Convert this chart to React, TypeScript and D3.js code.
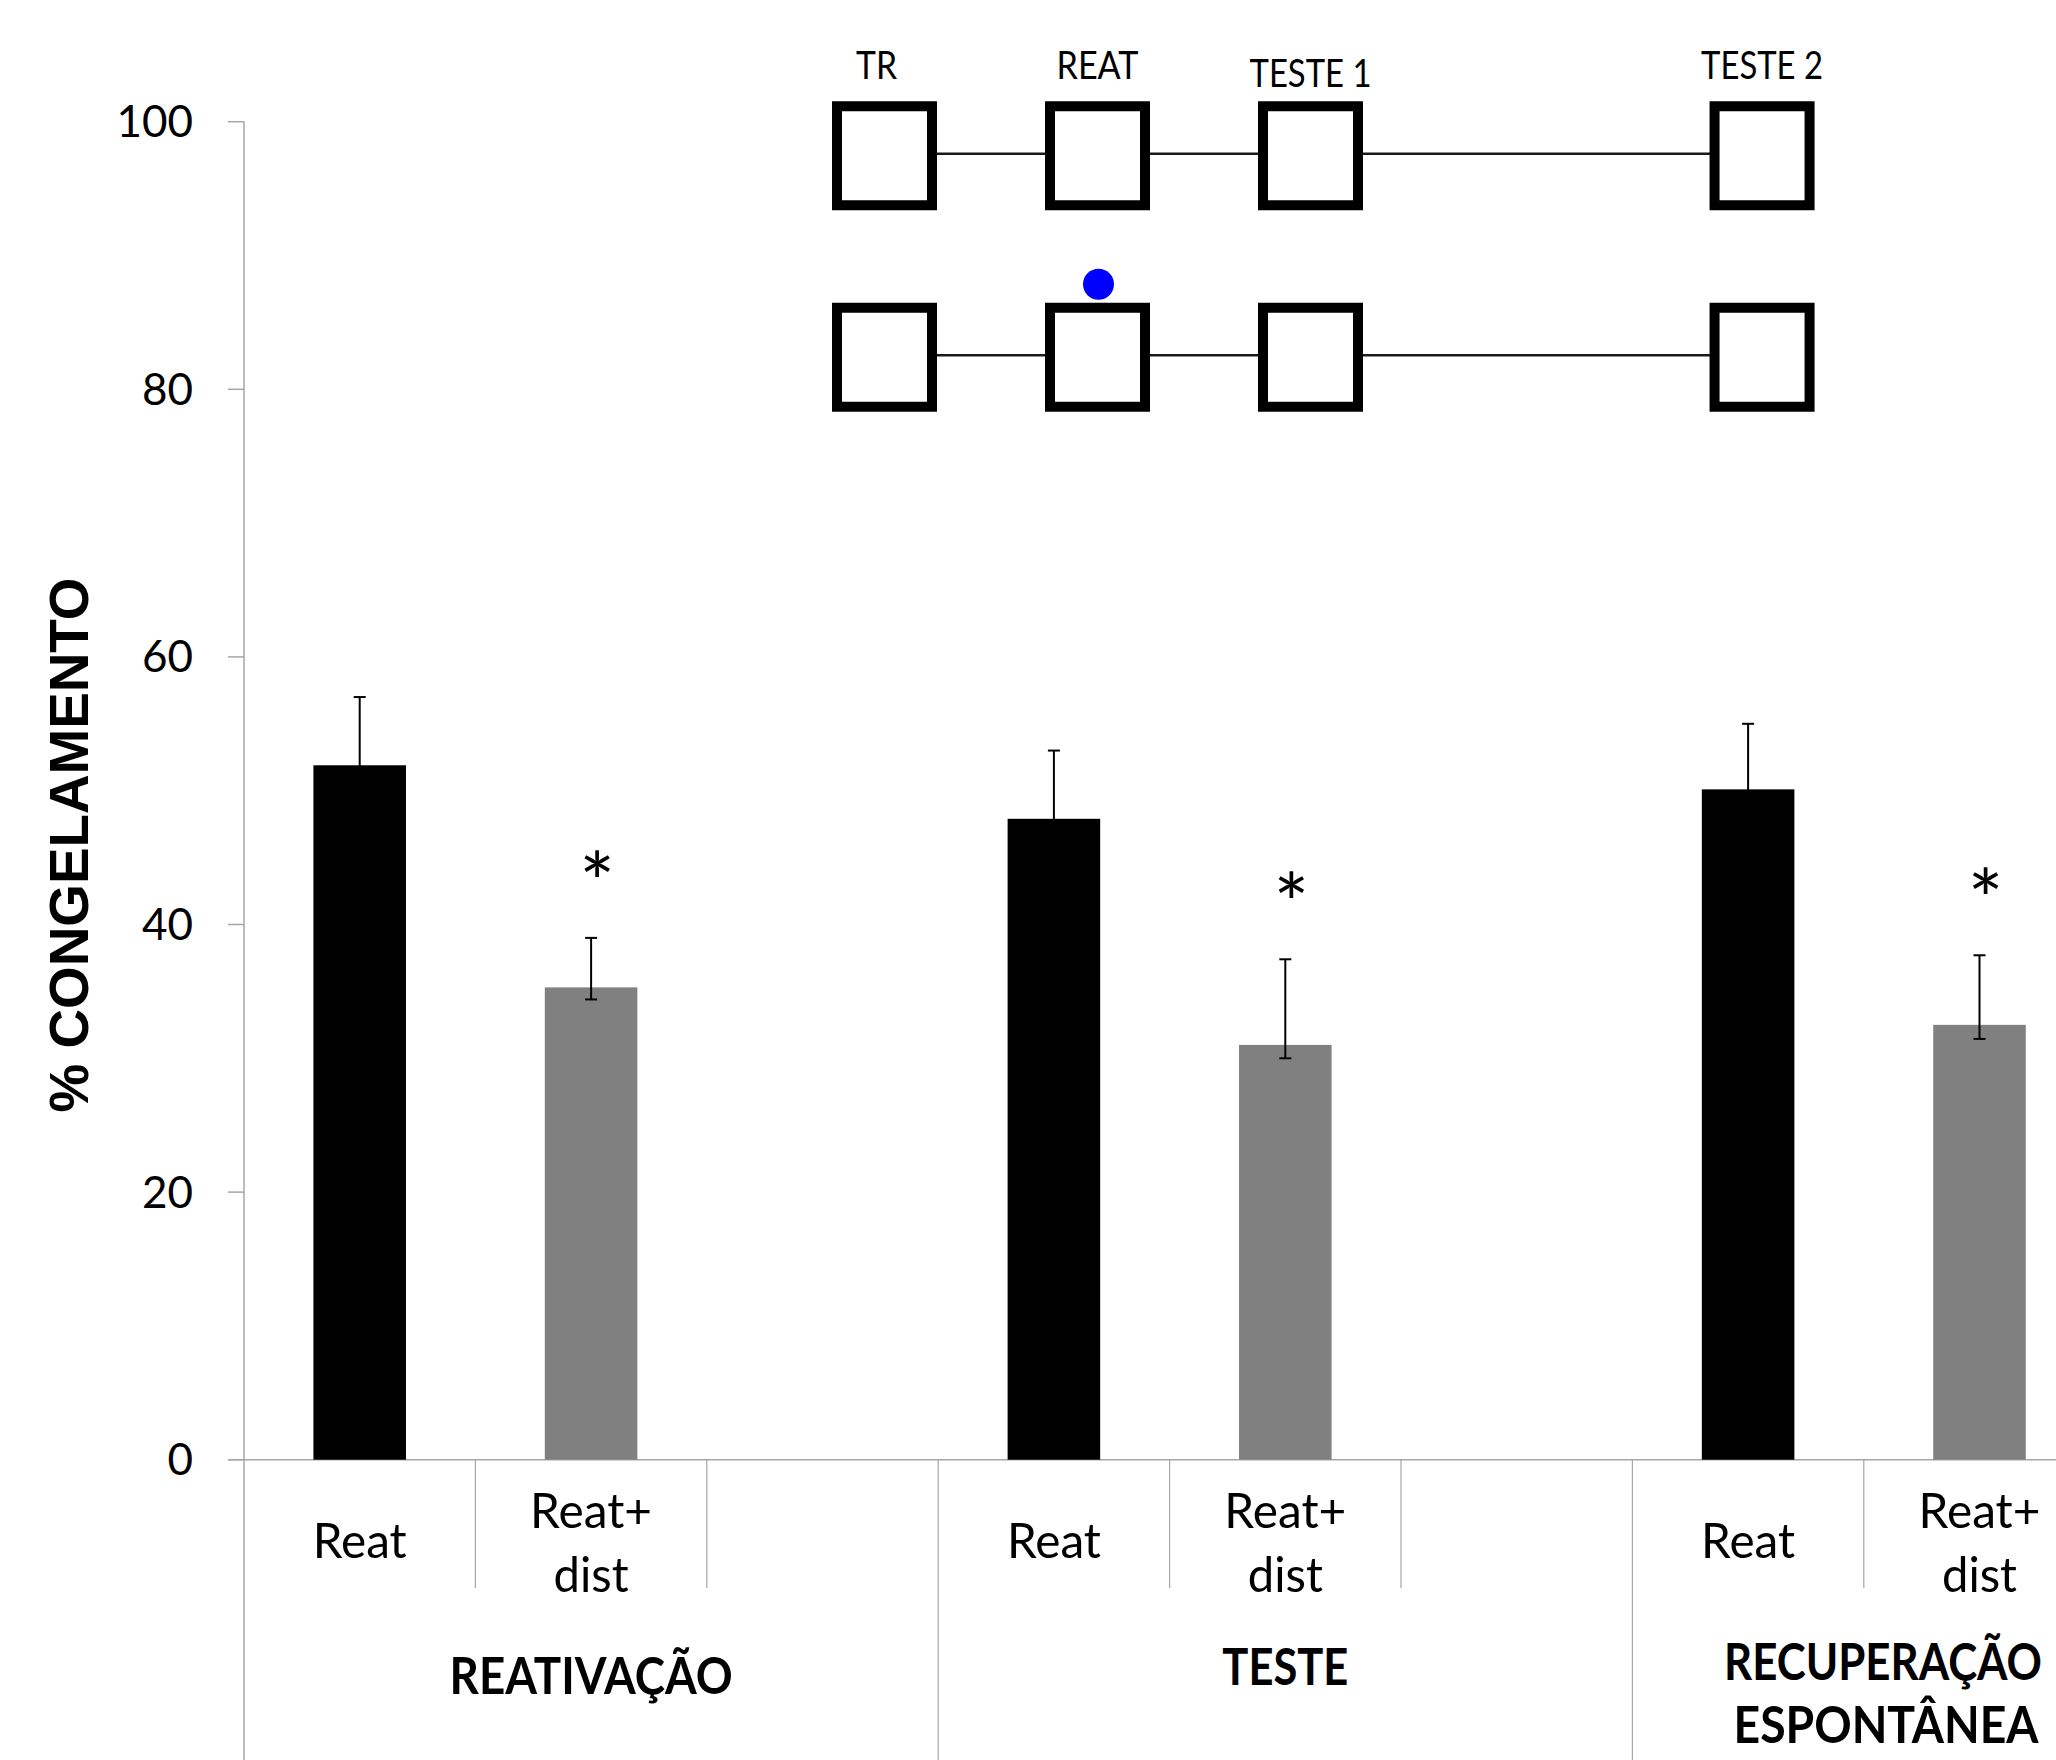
import React from "react";
import * as d3 from "d3";

// session groups and the two conditions inside each group
const groups = ["REATIVAÇÃO", "TESTE", "RECUPERAÇÃO ESPONTÂNEA"];
const conditions = ["Reat", "Reat+ dist"];

// % congelamento per group
const reatValues = [51.9, 47.9, 50.1];
const reatErrUp = [5.1, 5.1, 4.9];
const reatErrDown = [5.1, 5.1, 4.9];
const distValues = [35.3, 31.0, 32.5];
const distErrUp = [3.7, 6.4, 5.2];
const distErrDown = [0.9, 1.0, 1.05];
const significant = [true, true, true];

const yTicks = [0, 20, 40, 60, 80, 100];

// protocol schematic (inset)
const stages = ["TR", "REAT", "TESTE 1", "TESTE 2"];
const stageDay = [0, 1, 2, 4.12];
const protocolRows = ["Reat", "Reat+dist"];
const pulseStage = "REAT";

const W = 2056;
const H = 1760;
const FONT = "Lato, 'Open Sans', sans-serif";
const AXIS = "#a6a6a6";

// text squeezed to a width and stretched a bit in height (the original is Calibri)
function TallText({ x, y, size, sy, width, bold, children }: any) {
  return (
    <g transform={`translate(${x}, ${y}) scale(1, ${sy})`}>
      <text
        x={0}
        y={0}
        textAnchor="middle"
        fontSize={size}
        fontWeight={bold ? "bold" : "normal"}
        textLength={width}
        lengthAdjust="spacingAndGlyphs"
      >
        {children}
      </text>
    </g>
  );
}

export default function App() {
  const x = d3
    .scaleBand<number>()
    .domain(d3.range(groups.length * 3))
    .range([244, 244 + 9 * 231.4])
    .padding(0);
  const y = d3.scaleLinear().domain([0, 100]).range([1459.7, 121.7]);
  const bw = x.bandwidth() * 0.4;
  const mid = (k: number) => x(k)! + x.bandwidth() / 2;

  const bars = groups.flatMap((g, i) => [
    { key: `r${i}`, slot: i * 3, v: reatValues[i], up: reatErrUp[i], down: reatErrDown[i], fill: "#000000", star: false },
    { key: `d${i}`, slot: i * 3 + 1, v: distValues[i], up: distErrUp[i], down: distErrDown[i], fill: "#808080", star: significant[i] },
  ]);

  const sx = d3.scaleLinear().domain([0, 1]).range([884.5, 1097.5]);
  const sy = d3.scaleBand<string>().domain(protocolRows).range([55, 458]).padding(0);
  const rowY = (r: string) => sy(r)! + sy.bandwidth() / 2;

  const bottom = y(0);
  const x0 = x(0)!;
  const lastX = Math.min(mid(7), W - 14 - 159);
  const [lastA, lastB] = groups[2].split(" ");

  return (
    <svg
      width={W}
      height={H}
      style={{ position: "absolute", left: 0, top: 0, background: "#fff" }}
      fontFamily={FONT}
    >
      {/* y axis */}
      <line x1={x0} x2={x0} y1={y(100)} y2={H} stroke={AXIS} strokeWidth={1.5} />
      {yTicks.map((t) => (
        <g key={t}>
          <line x1={x0 - 16} x2={x0} y1={y(t)} y2={y(t)} stroke={AXIS} strokeWidth={1.5} />
          <text x={193} y={y(t)} dy="0.35em" textAnchor="end" fontSize={44} fill="#000">
            {t}
          </text>
        </g>
      ))}
      <text
        transform={`translate(88, 845) rotate(-90)`}
        textAnchor="middle"
        fontFamily="'Liberation Sans', Arial, sans-serif"
        fontWeight="bold"
        fontSize={56}
        textLength={535}
        lengthAdjust="spacingAndGlyphs"
      >
        % CONGELAMENTO
      </text>

      {/* x axis and category separators */}
      <line x1={x0 - 16} x2={W} y1={bottom} y2={bottom} stroke={AXIS} strokeWidth={1.5} />
      {d3.range(1, groups.length * 3).map((k) => {
        const xx = x(k)!;
        const long = k % 3 === 0;
        return <line key={k} x1={xx} x2={xx} y1={bottom} y2={long ? H : 1588} stroke={AXIS} strokeWidth={1.2} />;
      })}

      {/* bars */}
      {bars.map((b) => {
        const cx = mid(b.slot);
        const top = y(b.v + b.up);
        const low = y(b.v - b.down);
        return (
          <g key={b.key}>
            <rect x={cx - bw / 2} y={y(b.v)} width={bw} height={bottom - y(b.v)} fill={b.fill} />
            <line x1={cx} x2={cx} y1={top} y2={low} stroke="#000" strokeWidth={2} />
            <line x1={cx - 6} x2={cx + 6} y1={top} y2={top} stroke="#000" strokeWidth={2} />
            <line x1={cx - 6} x2={cx + 6} y1={low} y2={low} stroke="#000" strokeWidth={2} />
            {b.star && (
              <text x={cx + 6} y={top - 72 + 47} textAnchor="middle" fontSize={84}>
                *
              </text>
            )}
          </g>
        );
      })}

      {/* category labels */}
      {groups.map((g, i) =>
        conditions.map((c, j) => {
          const cx = mid(i * 3 + j);
          const lines = c.split(" ");
          if (lines.length === 1) {
            return (
              <text key={`${i}-${j}`} x={cx} y={1558} textAnchor="middle" fontSize={49} textLength={94} lengthAdjust="spacingAndGlyphs">
                {c}
              </text>
            );
          }
          return (
            <g key={`${i}-${j}`}>
              <text x={cx} y={1528} textAnchor="middle" fontSize={49} textLength={122} lengthAdjust="spacingAndGlyphs">
                {lines[0]}
              </text>
              <text x={cx} y={1592} textAnchor="middle" fontSize={49} textLength={75} lengthAdjust="spacingAndGlyphs">
                {lines[1]}
              </text>
            </g>
          );
        })
      )}

      {/* group labels */}
      <TallText x={mid(1)} y={1694} size={46} sy={1.12} width={283} bold>
        {groups[0]}
      </TallText>
      <TallText x={mid(4)} y={1685} size={46} sy={1.12} width={126} bold>
        {groups[1]}
      </TallText>
      <TallText x={lastX} y={1680} size={44} sy={1.16} width={318} bold>
        {lastA}
      </TallText>
      <TallText x={lastX + 3} y={1743} size={44} sy={1.16} width={305} bold>
        {lastB}
      </TallText>

      {/* protocol schematic */}
      {stages.map((s, i) => (
        <text
          key={s}
          x={sx(stageDay[i]) - (s === "TR" ? 8 : 0)}
          y={s === "TESTE 1" ? 87 : 79}
          textAnchor="middle"
          fontSize={39}
          textLength={s.length === 2 ? 41 : s.length === 4 ? 82 : 122}
          lengthAdjust="spacingAndGlyphs"
        >
          {s}
        </text>
      ))}
      {protocolRows.map((r) => {
        const cy = rowY(r);
        return (
          <g key={r}>
            {stageDay.slice(1).map((d, i) => (
              <line key={i} x1={sx(stageDay[i]) + 52} x2={sx(d) - 52} y1={cy - 2} y2={cy - 2} stroke="#1a1a1a" strokeWidth={2.6} />
            ))}
            {stageDay.map((d, i) => (
              <rect key={i} x={sx(d) - 47.5} y={cy - 49.5} width={95} height={99} fill="#fff" stroke="#000" strokeWidth={10} />
            ))}
          </g>
        );
      })}
      <circle cx={sx(stageDay[stages.indexOf(pulseStage)]) + 1} cy={rowY(protocolRows[1]) - 73} r={15.5} fill="#0000ff" />
    </svg>
  );
}
